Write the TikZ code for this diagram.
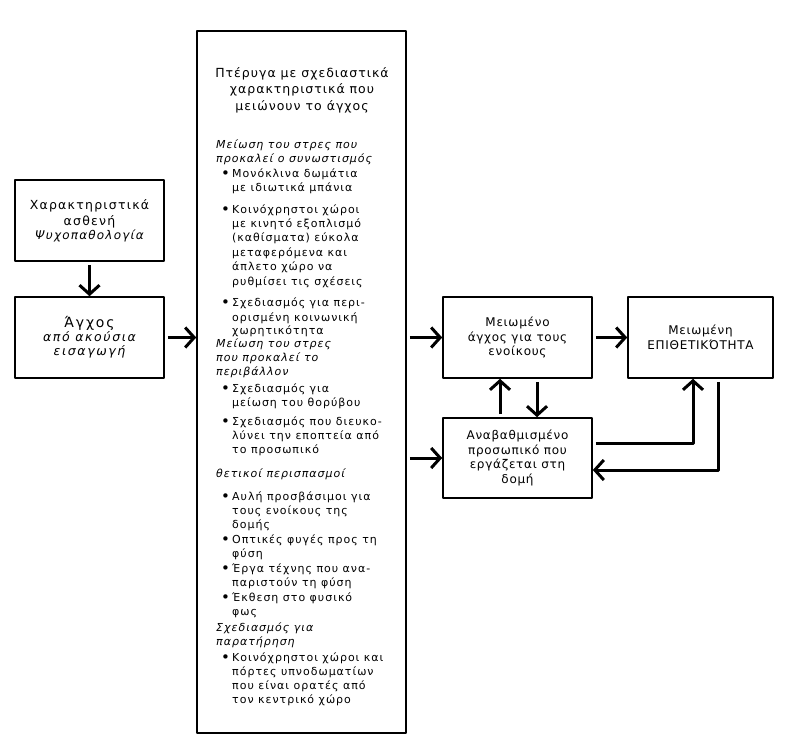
\documentclass[tikz,border=0pt]{standalone}
\usepackage{fontspec}
\setmainfont{DejaVu Sans}[LetterSpace=6]
\usetikzlibrary{arrows.meta,positioning}
\newcommand{\blt}{\makebox[11pt][l]{\raisebox{-0.8pt}{\fontsize{15}{15}\selectfont\textbullet}}}
\begin{document}
\begin{tikzpicture}[x=1pt, y=-1pt, line join=round, >={Straight Barb[length=9pt,width=20pt]},
	font=\fontsize{12}{14.5}\selectfont,
	box/.style={draw, line width=1.6pt, minimum width=149pt, minimum height=81pt, align=center, inner sep=0pt},
	arr/.style={->, line width=3pt, shorten <=3pt},
	txt/.style={font=\fontsize{11}{14}\selectfont\addfontfeatures{LetterSpace=9}, anchor=base west, inner sep=0pt},
	hdtxt/.style={txt, font=\fontsize{11}{14}\selectfont\addfontfeatures{LetterSpace=9}\itshape}]
	\useasboundingbox (0,0) rectangle (791,754);
	\node[box, font=\fontsize{12.5}{16}\selectfont\addfontfeatures{LetterSpace=10}] (patient) at (89.5,220.5)
		{Χαρακτηριστικά\\ασθενή\\[-2pt]{\fontsize{12}{13}\selectfont\itshape Ψυχοπαθολογία}};
	\node[box, font=\fontsize{12.5}{14}\selectfont\addfontfeatures{LetterSpace=13}] (anxiety) at (89.5,337.5)
		{{\fontsize{14}{16}\selectfont Άγχος}\\{\itshape από ακούσια}\\{\itshape εισαγωγή}};
	\node[box, minimum width=209pt, minimum height=702pt] (wing) at (301.5,382) {};
	\node[font=\fontsize{12.5}{16.5}\selectfont\addfontfeatures{LetterSpace=8}, align=center] (title) at (302,90)
		{Πτέρυγα με σχεδιαστικά\\χαρακτηριστικά που\\μειώνουν το άγχος};
	\node[box] (lower) at (517.5,337.5) {Μειωμένο\\άγχος για τους\\ενοίκους};
	\node[box, minimum width=145pt] (aggr) at (700.5,337.5) {Μειωμένη\\ΕΠΙΘΕΤΙΚΌΤΗΤΑ};
	\node[box, minimum height=80pt] (staff) at (517.5,458) {Αναβαθμισμένο\\προσωπικό που\\εργάζεται στη\\δομή};
	\foreach \y/\t in {145/Μείωση του στρες που, 159/προκαλεί ο συνωστισμός, 344/Μείωση του στρες,
		358/που προκαλεί το, 372/περιβάλλον, 474/θετικοί περισπασμοί, 628/Σχεδιασμός για, 642/παρατήρηση}
		\node[hdtxt] (hd\y) at (216,\y+3.5) {\t};
	\foreach \y/\t in {174/Μονόκλινα δωμάτια, 210/Κοινόχρηστοι χώροι, 303/Σχεδιασμός για περι-,
		389/Σχεδιασμός για, 422/Σχεδιασμός που διευκο-, 497/Αυλή προσβάσιμοι για, 540/Οπτικές φυγές προς τη,
		569/Έργα τέχνης που ανα-, 598/Έκθεση στο φυσικό, 658/Κοινόχρηστοι χώροι και}
		\node[txt] (it\y) at (221,\y+3.5) {\blt\t};
	\foreach \y/\t in {188/με ιδιωτικά μπάνια, 224/με κινητό εξοπλισμό, 238/(καθίσματα) εύκολα, 253/μεταφερόμενα και,
		267/άπλετο χώρο να, 282/ρυθμίσει τις σχέσεις, 318/ορισμένη κοινωνική, 331/χωρητικότητα,
		403/μείωση του θορύβου, 436/λύνει την εποπτεία από, 450/το προσωπικό, 511/τους ενοίκους της,
		525/δομής, 554/φύση, 583/παριστούν τη φύση, 612/φως, 672/πόρτες υπνοδωματίων,
		686/που είναι ορατές από, 700/τον κεντρικό χώρο}
		\node[txt] (ln\y) at (232,\y+3.5) {\t};
	\draw[arr] (patient) -- (anxiety);
	\draw[arr] (anxiety.east) -- (anxiety.east -| wing.west);
	\draw[arr] (lower.west -| wing.east) -- (lower.west);
	\draw[arr] (staff.west -| wing.east) -- (staff.west);
	\draw[arr] (lower) -- (aggr);
	\draw[arr] ([xshift=-17.5pt]staff.north) -- ([xshift=-17.5pt]lower.south);
	\draw[arr] ([xshift=19.5pt]lower.south) -- ([xshift=19.5pt]staff.north);
	\draw[arr] ([yshift=15pt]staff.east) -| ([xshift=-7.5pt]aggr.south);
	\draw[arr] ([xshift=17.5pt]aggr.south) |- ([yshift=-12pt]staff.east);
\end{tikzpicture}
\end{document}
